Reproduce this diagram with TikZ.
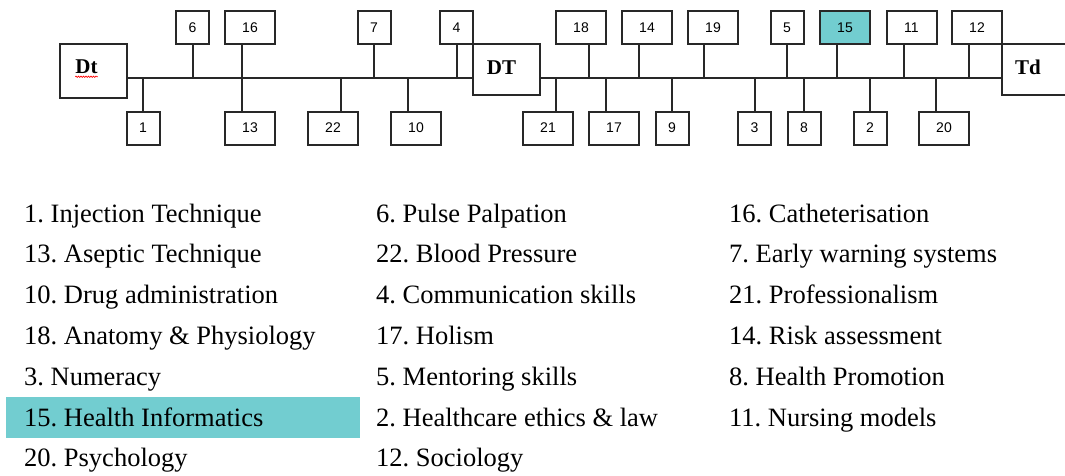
\documentclass[tikz,border=0pt]{standalone}
\usepackage{fontspec}
\setmainfont{Liberation Serif}
\setsansfont{Liberation Sans}
\usetikzlibrary{positioning, calc, decorations.pathmorphing}
\definecolor{informatics}{RGB}{114,205,208}
\definecolor{edge}{RGB}{40,40,40}
\frenchspacing
\tikzset{
x=1pt, y=-1pt, % one unit is one pixel, y runs down
topic/.style={draw=edge, line width=2pt, minimum width=33pt, minimum height=33pt, inner sep=0pt, font=\sffamily\fontsize{14}{14}\selectfont}, % small numbered box
wide/.style={topic, minimum width=50pt}, % wider numbered box
hub/.style={draw=edge, line width=2pt, minimum width=67pt, minimum height=51pt, inner sep=0pt}, % the three big boxes
hubtext/.style={inner sep=0pt, font=\bfseries\fontsize{21}{21}\selectfont},
wire/.style={draw=edge, line width=2pt},
entry/.style={anchor=base west, inner sep=0pt, font=\fontsize{26.5}{26.5}\selectfont}, % legend line
}
\begin{document}
\begin{tikzpicture}
                \clip (0,0) rectangle (1065,475);
                % the three big boxes
                \node[hub, minimum height=54pt, label={[hubtext, name=dtlabel, xshift=-7pt, yshift=4pt]center:Dt}] (dt) at (93.5,71) {};
                \node[hub, label={[hubtext, xshift=-5pt, yshift=2pt]center:DT}] (DT) at (506.5,69.5) {};
                \node[hub, minimum width=90pt, label={[hubtext, anchor=west, xshift=14pt, yshift=2pt]west:Td}] (td) at (1047,69.5) {};
                \draw[red, line width=0.6pt, decorate, decoration={snake, amplitude=0.7pt, segment length=2.5pt}]
                    ($(dtlabel.base west)+(0,3)$) -- ($(dtlabel.base east)+(0,3)$);
                % boxes above the line
                \node[topic] (t6) at (192.5,27.5) {6};
                \node[wide] (t16) at (250,27.5) {16};
                \node[topic] (t7) at (374,27.5) {7};
                \node[topic] (t4) at (456.5,27.5) {4};
                \node[wide] (t18) at (581,27.5) {18};
                \node[wide] (t14) at (647,27.5) {14};
                \node[wide] (t19) at (713,27.5) {19};
                \node[topic] (t5) at (787,27.5) {5};
                \node[wide, fill=informatics] (t15) at (845,27.5) {15};
                \node[wide] (t11) at (911.5,27.5) {11};
                \node[wide] (t12) at (977,27.5) {12};
                % boxes below the line
                \node[topic] (b1) at (143,128) {1};
                \node[wide] (b13) at (250,128) {13};
                \node[wide] (b22) at (333,128) {22};
                \node[wide] (b10) at (416,128) {10};
                \node[wide] (b21) at (548,128) {21};
                \node[wide] (b17) at (614,128) {17};
                \node[topic] (b9) at (672,128) {9};
                \node[topic] (b3) at (754.5,128) {3};
                \node[topic] (b8) at (804,128) {8};
                \node[topic] (b2) at (870,128) {2};
                \node[wide] (b20) at (944,128) {20};
                % the line and its branches
                \coordinate (spine) at (0,78);
                \draw[wire] (dt.east |- spine) -- (DT.west |- spine);
                \draw[wire] (DT.east |- spine) -- (td.west |- spine);
                \foreach \n/\dx in {6/0,16/-8,7/0,4/0,18/8,14/-8,19/-9,5/0,15/-8,11/-8,12/-8}
                    \draw[wire] ($(t\n.south)+(\dx,0)$) -- ($(t\n.south |- spine)+(\dx,0)$);
                \foreach \n/\dx in {1/0,13/-8,22/8,10/-8,21/8,17/-8,9/0,3/0,8/0,2/0,20/-8}
                    \draw[wire] ($(b\n.north)+(\dx,0)$) -- ($(b\n.north |- spine)+(\dx,0)$);
                % legend
                \fill[informatics] (6,397) rectangle (360,438);
                \foreach \txt [count=\r from 0] in {1. Injection Technique, 13. Aseptic Technique, 10. Drug administration, 18. Anatomy \& Physiology, 3. Numeracy, 15. Health Informatics, 20. Psychology}
                    \node[entry] (la\r) at (24,{222+40.8*\r}) {\txt};
                \foreach \txt [count=\r from 0] in {6. Pulse Palpation, 22. Blood Pressure, 4. Communication skills, 17. Holism, 5. Mentoring skills, 2. Healthcare ethics \& law, 12. Sociology}
                    \node[entry] (lb\r) at (376,{222+40.8*\r}) {\txt};
                \foreach \txt [count=\r from 0] in {16. Catheterisation, 7. Early warning systems, 21. Professionalism, 14. Risk assessment, 8. Health Promotion, 11. Nursing models}
                    \node[entry] (lc\r) at (729,{222+40.8*\r}) {\txt};
\end{tikzpicture}
\end{document}
